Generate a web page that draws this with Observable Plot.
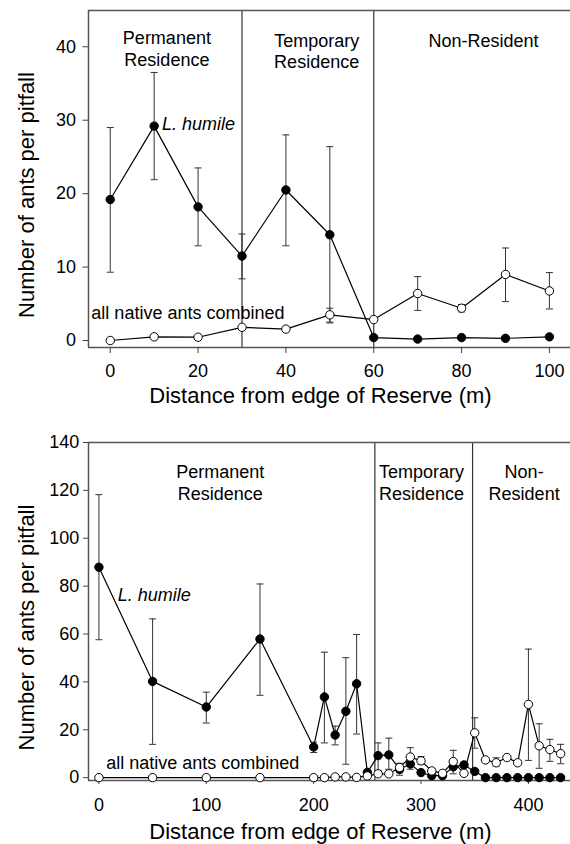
<!DOCTYPE html>
<html><head><meta charset="utf-8">
<script src="https://cdn.jsdelivr.net/npm/d3@7"></script>
<script src="https://cdn.jsdelivr.net/npm/@observablehq/plot@0.6"></script>
<style>
body{margin:0;background:#fff;}
#chart svg{display:block;}
</style></head><body><div id="chart"></div>
<script>
// ---------- Panel A (0–100 m) ----------
const distTop = [0, 10, 20, 30, 40, 50, 60, 70, 80, 90, 100];
const humileTop   = [19.2, 29.2, 18.2, 11.5, 20.5, 14.4, 0.4, 0.2, 0.4, 0.3, 0.5];
const humileTopLo = [9.3, 21.9, 12.9, 8.4, 12.9, 2.4, null, null, null, null, null];
const humileTopHi = [29.0, 36.5, 23.5, 14.5, 28.0, 26.4, null, null, null, null, null];
const nativeTop   = [0, 0.5, 0.45, 1.8, 1.55, 3.5, 2.85, 6.4, 4.4, 9.0, 6.75];
const nativeTopLo = [null, null, null, null, null, 2.5, null, 4.1, 3.9, 5.3, 4.3];
const nativeTopHi = [null, null, null, null, null, 4.4, null, 8.7, 4.9, 12.6, 9.25];
const boundsTop = [30, 60];
const xTicksTop = [0, 20, 40, 60, 80, 100];
const yTicksTop = [0, 10, 20, 30, 40];
const zonesTop = ["Permanent\nResidence", "Temporary\nResidence", "Non-Resident"];
const zoneXTop = [12.9, 47.0, 85.0];
const zoneYTop = [39.8, 39.5, 40.9];

// ---------- Panel B (0–430 m) ----------
const distBot = [0, 50, 100, 150, 200, 210, 220, 230, 240, 250, 260, 270, 280, 290, 300, 310, 320, 330, 340, 350, 360, 370, 380, 390, 400, 410, 420, 430];
const humileBot   = [87.9, 40.2, 29.5, 57.9, 12.8, 33.7, 17.8, 27.7, 39.2, 2.2, 9.2, 9.5, 3.5, 5.7, 2.1, 0.8, 0.8, 4.5, 5.3, 2.6, 0, 0, 0, 0, 0, 0, 0, 0];
const humileBotLo = [57.6, 13.9, 22.8, 34.4, 10.5, 14.5, 13.7, 5.6, 18.2, null, 3.0, 3.5, 1.0, 3.5, null, null, null, null, null, null, null, null, null, null, null, null, null, null];
const humileBotHi = [118.2, 66.3, 35.7, 80.9, 14.8, 52.4, 21.5, 50.1, 59.8, null, 14.5, 16.5, 5.6, 7.5, null, null, null, null, null, null, null, null, null, null, null, null, null, null];
const nativeBot   = [0, 0, 0, 0, 0, 0, 0.3, 0.3, 0.1, 0.7, 1.6, 1.6, 4.2, 8.6, 7.0, 2.8, 1.8, 6.7, 1.8, 18.7, 7.4, 6.2, 8.4, 6.2, 30.6, 13.3, 11.7, 10.0];
const nativeBotLo = [null, null, null, null, null, null, null, null, null, null, null, null, 2.0, 5.0, 5.5, null, null, 1.6, null, 12.3, null, 4.8, null, null, 7.2, 3.9, 6.8, 5.8];
const nativeBotHi = [null, null, null, null, null, null, null, null, null, null, null, null, 6.0, 12.5, 8.8, null, null, 11.4, null, 25.0, null, 8.3, null, null, 53.7, 22.5, 16.0, 13.9];
const boundsBot = [257, 348];
const xTicksBot = [0, 100, 200, 300, 400];
const yTicksBot = [0, 20, 40, 60, 80, 100, 120, 140];
const zonesBot = ["Permanent\nResidence", "Temporary\nResidence", "Non-\nResident"];
const zoneXBot = [113, 300.5, 396];
const zoneYBot = [123.7, 123.7, 123.7];

const xTitle = "Distance from edge of Reserve (m)";
const yTitle = "Number of ants per pitfall";
const humileName = "L. humile";
const nativeName = "all native ants combined";

const FONT = "'Liberation Sans', Arial, Helvetica, sans-serif";
const cap = {draw(ctx) { ctx.moveTo(-3.5, 0); ctx.lineTo(3.5, 0); }};

function panel(o) {
  const hum = o.dist.map((x, i) => ({x, y: o.hum[i], lo: o.humLo[i], hi: o.humHi[i]}));
  const nat = o.dist.map((x, i) => ({x, y: o.nat[i], lo: o.natLo[i], hi: o.natHi[i]}));
  const errs = [...hum, ...nat].filter(d => d.lo != null);
  const zones = o.zones.map((t, i) => ({t, x: o.zoneX[i], y: o.zoneY[i]}));
  const frameStroke = "#555";
  return Plot.plot({
    width: 570, height: o.height,
    marginTop: o.mt, marginBottom: o.mb, marginLeft: 88, marginRight: 0,
    style: {fontFamily: FONT, fontSize: "18px", color: "#000", background: "#fff", overflow: "visible"},
    x: {domain: o.xd},
    y: {domain: o.yd},
    marks: [
      Plot.ruleX(o.bounds, {stroke: "#333", strokeWidth: 1.2}),
      Plot.ruleY([o.yd[1]], {stroke: frameStroke, strokeWidth: 1.5}),
      Plot.ruleY([o.yd[0]], {stroke: frameStroke, strokeWidth: 1.5}),
      Plot.ruleX([o.xd[0]], {stroke: frameStroke, strokeWidth: 1.5}),
      Plot.axisX({ticks: o.xticks, tickSize: o.xts, tickPadding: o.xtp, fontSize: 18, label: null, stroke: "#444", tickFormat: d => String(d)}),
      Plot.axisY({ticks: o.yticks, tickSize: o.yts, tickPadding: o.ytp, fontSize: 18, label: null, stroke: "#444", tickFormat: d => String(d)}),
      Plot.text([xTitle], {text: d => d, frameAnchor: "bottom", dy: o.xtdy, dx: -9, fontSize: 22, lineAnchor: "middle", textAnchor: "middle"}),
      Plot.text([yTitle], {text: d => d, frameAnchor: "left", rotate: -90, dx: -62, dy: o.ytdy, fontSize: 22, lineAnchor: "middle", textAnchor: "middle"}),
      Plot.line(hum, {x: "x", y: "y", stroke: "#000", strokeWidth: 1.2}),
      Plot.line(nat, {x: "x", y: "y", stroke: "#000", strokeWidth: 1.2}),
      Plot.ruleX(errs, {x: "x", y1: "lo", y2: "hi", stroke: "#333", strokeWidth: 1}),
      Plot.dot(errs, {x: "x", y: "lo", symbol: cap, r: 3, fill: "none", stroke: "#333", strokeWidth: 1}),
      Plot.dot(errs, {x: "x", y: "hi", symbol: cap, r: 3, fill: "none", stroke: "#333", strokeWidth: 1}),
      Plot.dot(hum, {x: "x", y: "y", r: 4.2, fill: "#000", stroke: "#000", strokeWidth: 1}),
      Plot.dot(nat, {x: "x", y: "y", r: 4.2, fill: "#fff", stroke: "#000", strokeWidth: 1}),
      Plot.text(zones, {x: "x", y: "y", text: "t", fontSize: 18, lineHeight: 1.22, lineAnchor: "middle", textAnchor: "middle"}),
      Plot.text([humileName], {text: d => d, x: o.humLabel[0], y: o.humLabel[1], textAnchor: "start", lineAnchor: "middle", fontStyle: "italic", fontSize: 18}),
      Plot.text([nativeName], {text: d => d, x: o.natLabel[0], y: o.natLabel[1], textAnchor: "start", lineAnchor: "middle", fontSize: 18})
    ]
  });
}

const panelTop = panel({
  dist: distTop, hum: humileTop, humLo: humileTopLo, humHi: humileTopHi,
  nat: nativeTop, natLo: nativeTopLo, natHi: nativeTopHi,
  bounds: boundsTop, xticks: xTicksTop, yticks: yTicksTop,
  zones: zonesTop, zoneX: zoneXTop, zoneY: zoneYTop,
  height: 420, mt: 10, mb: 73, xd: [-4.95, 104.8], yd: [-0.95, 44.94],
  xts: 6, xtp: 11, yts: 5.5, ytp: 7, xtdy: 48, ytdy: 16,
  humLabel: [11.8, 29.4], natLabel: [-4.3, 3.7]
});
const panelBot = panel({
  dist: distBot, hum: humileBot, humLo: humileBotLo, humHi: humileBotHi,
  nat: nativeBot, natLo: nativeBotLo, natHi: nativeBotHi,
  bounds: boundsBot, xticks: xTicksBot, yticks: yTicksBot,
  zones: zonesBot, zoneX: zoneXBot, zoneY: zoneYBot,
  height: 424, mt: 22, mb: 64, xd: [-9.7, 439.2], yd: [-1.2, 140],
  xts: 4, xtp: 14, yts: 5, ytp: 4.3, xtdy: 51.5, ytdy: 16,
  humLabel: [17.5, 76.3], natLabel: [6.8, 6.1]
});
document.getElementById("chart").append(panelTop, panelBot);
</script>
</body></html>
